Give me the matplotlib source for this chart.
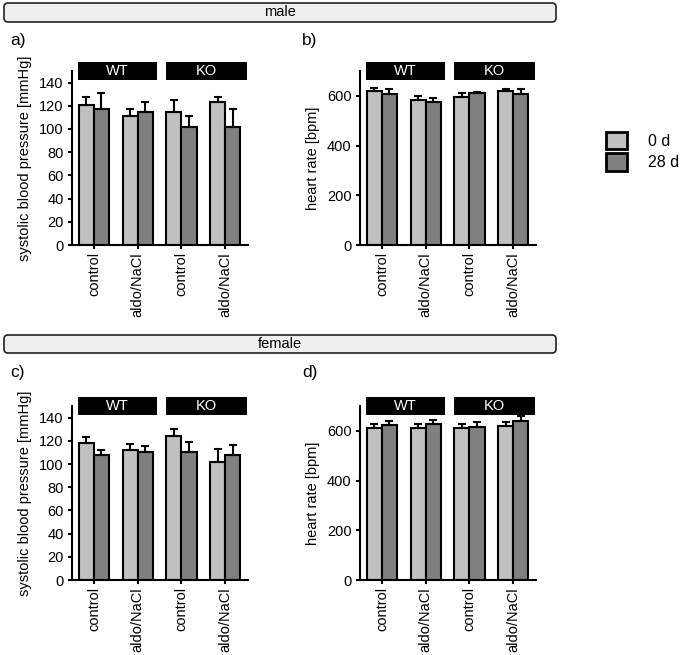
import numpy as np
import matplotlib
matplotlib.use('Agg')
import matplotlib.pyplot as plt
from matplotlib.patches import Rectangle, FancyBboxPatch, Patch
from matplotlib.transforms import blended_transform_factory

plt.rcParams['font.family'] = ['Liberation Sans', 'DejaVu Sans']

# categories
xlabels = ['control', 'aldo/NaCl', 'control', 'aldo/NaCl']
genotypes = ['WT', 'KO']
days = ['0 d', '28 d']

# male, systolic blood pressure [mmHg]
sbp_male_0d = [121, 111, 115, 123]
sbp_male_0d_err = [7, 6, 10, 5]
sbp_male_28d = [117, 115, 102, 102]
sbp_male_28d_err = [14, 8, 9, 15]

# male, heart rate [bpm]
hr_male_0d = [621, 584, 596, 620]
hr_male_0d_err = [12, 16, 15, 7]
hr_male_28d = [607, 577, 611, 607]
hr_male_28d_err = [20, 16, 6, 20]

# female, systolic blood pressure [mmHg]
sbp_female_0d = [118, 112, 124.5, 102]
sbp_female_0d_err = [5.5, 5.5, 5.5, 11]
sbp_female_28d = [107.5, 110.5, 110.5, 107.5]
sbp_female_28d_err = [4.5, 5, 8.5, 9]

# female, heart rate [bpm]
hr_female_0d = [611, 611, 611, 620]
hr_female_0d_err = [16, 16, 17, 15]
hr_female_28d = [624, 627, 617, 638]
hr_female_28d_err = [14, 15, 17, 20]

colors = ['#c0c0c0', '#808080']
W, H = 685, 655
lw = 1.5
bw = 0.345
fs = 10.5


def draw_panel(ax, v0, e0, v1, e1, ylim, yticks, ylabel):
    x = np.arange(len(xlabels))
    for off, v, e, c in [(-bw / 2, v0, e0, colors[0]), (bw / 2, v1, e1, colors[1])]:
        ax.bar(x + off, v, width=bw, color=c, edgecolor='black',
               linewidth=lw, zorder=2)
        ax.errorbar(x + off, v, yerr=[np.zeros(len(e)), e], fmt='none',
                    ecolor='black', elinewidth=lw, capsize=2.8, capthick=lw,
                    zorder=3)
    ax.set_xlim(-0.5, 3.52)
    ax.set_ylim(*ylim)
    ax.set_yticks(yticks)
    ax.set_xticks(x)
    ax.set_xticklabels(xlabels, rotation=90, fontsize=fs)
    ax.tick_params(axis='y', labelsize=fs, width=lw, length=3, pad=3)
    ax.tick_params(axis='x', width=lw, length=3, pad=2)
    for s in ['top', 'right']:
        ax.spines[s].set_visible(False)
    for s in ['left', 'bottom']:
        ax.spines[s].set_linewidth(lw)
    ax.set_ylabel(ylabel, fontsize=fs, labelpad=5)
    # genotype header boxes
    tr = blended_transform_factory(ax.transData, ax.transAxes)
    for (x0, x1), g in zip([(-0.36, 1.45), (1.65, 3.49)], genotypes):
        ax.add_patch(Rectangle((x0, 0.95), x1 - x0, 0.10, transform=tr,
                               facecolor='black', edgecolor='none',
                               clip_on=False, zorder=4))
        ax.text((x0 + x1) / 2, 1.0, g, transform=tr, color='white',
                fontsize=fs, ha='center', va='center', zorder=5)


fig = plt.figure(figsize=(W / 100, H / 100), dpi=100)

left_a, left_b = 72 / W, 360 / W
aw, ah = 176 / W, 174 / H
bot_top, bot_bot = 1 - 245 / H, 1 - 580 / H

ax_a = fig.add_axes([left_a, bot_top, aw, ah])
ax_b = fig.add_axes([left_b, bot_top, aw, ah])
ax_c = fig.add_axes([left_a, bot_bot, aw, ah])
ax_d = fig.add_axes([left_b, bot_bot, aw, ah])

draw_panel(ax_a, sbp_male_0d, sbp_male_0d_err, sbp_male_28d, sbp_male_28d_err,
           (0, 150), range(0, 141, 20), 'systolic blood pressure [mmHg]')
draw_panel(ax_b, hr_male_0d, hr_male_0d_err, hr_male_28d, hr_male_28d_err,
           (0, 700), range(0, 601, 200), 'heart rate [bpm]')
draw_panel(ax_c, sbp_female_0d, sbp_female_0d_err, sbp_female_28d,
           sbp_female_28d_err, (0, 150), range(0, 141, 20),
           'systolic blood pressure [mmHg]')
draw_panel(ax_d, hr_female_0d, hr_female_0d_err, hr_female_28d,
           hr_female_28d_err, (0, 700), range(0, 601, 200), 'heart rate [bpm]')

# section headers
for (y0, y1), name in [((3, 22), 'male'), ((335, 353), 'female')]:
    fig.patches.append(FancyBboxPatch(
        (4 / W, 1 - y1 / H), 552 / W, (y1 - y0) / H,
        boxstyle='round,pad=0,rounding_size=0.006',
        transform=fig.transFigure, facecolor='#efefef', edgecolor='#222222',
        linewidth=1.2))
    fig.text(280 / W, 1 - (y0 + y1) / 2 / H, name, ha='center', va='center',
             fontsize=fs)

# panel letters
for (px, py), lab in zip([(10, 40), (302, 40), (10, 373), (302, 373)],
                         ['a)', 'b)', 'c)', 'd)']):
    fig.text(px / W, 1 - py / H, lab, fontsize=12.5, va='center', ha='left')

handles = [Patch(facecolor=c, edgecolor='black', linewidth=2) for c in colors]
fig.legend(handles, days, loc='upper left',
           bbox_to_anchor=(606 / W, 1 - 132 / H), frameon=False,
           fontsize=11.5, handlelength=1.3, handleheight=1.3,
           handletextpad=1.3, labelspacing=0.25, borderpad=0,
           borderaxespad=0)

fig.savefig('out.png', dpi=100)
